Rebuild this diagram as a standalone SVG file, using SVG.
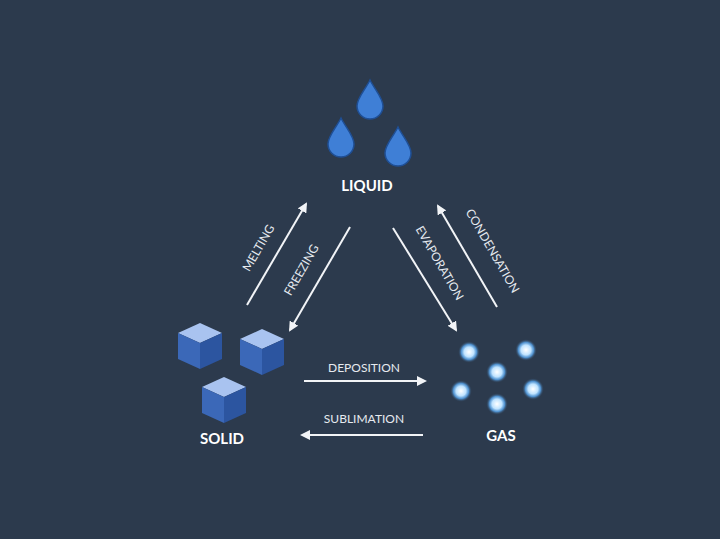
<svg xmlns="http://www.w3.org/2000/svg" width="720" height="539" viewBox="0 0 720 539">
<defs>
<style>
.lbl{font-family:"Lato","Liberation Sans",sans-serif;font-size:12px;fill:#e6eaf0;text-anchor:middle}
.ttl{font-family:"Lato","Liberation Sans",sans-serif;font-size:15px;font-weight:bold;fill:#ffffff;text-anchor:middle}
.arr{stroke:#f2f4f7;stroke-width:2;fill:none;marker-end:url(#ah)}
.top{fill:#a9c3f0}.lft{fill:#3b68b8}.rgt{fill:#2c55a0}
.drop{fill:#3f7fd6;stroke:#1f4f95;stroke-width:1.5}
</style>
<marker id="ah" viewBox="0 0 10 10" refX="8" refY="5" markerWidth="5" markerHeight="5" orient="auto"><path d="M0,0 L10,5 L0,10 Z" fill="#f2f4f7"/></marker>
<radialGradient id="glow"><stop offset="0" stop-color="#ffffff"/><stop offset="0.45" stop-color="#bfe3ff"/><stop offset="0.7" stop-color="#5aa8f0" stop-opacity="0.8"/><stop offset="1" stop-color="#2c3a4d" stop-opacity="0"/></radialGradient>
<path id="d" d="M0,-20 C5,-10 13,-2 13,6 A13,13 0 0 1 -13,6 C-13,-2 -5,-10 0,-20 Z"/>
<g id="cube"><path class="top" d="M0,-22 L22,-12 L0,-2 L-22,-12 Z"/><path class="lft" d="M-22,-12 L0,-2 L0,24 L-22,14 Z"/><path class="rgt" d="M0,-2 L22,-12 L22,14 L0,24 Z"/></g>
</defs>
<rect width="720" height="539" fill="#2c3a4d"/>
<g id="liquid">
<use href="#d" class="drop" x="370" y="100"/>
<use href="#d" class="drop" x="341" y="138"/>
<use href="#d" class="drop" x="398" y="147"/>
<text class="ttl" x="367" y="191">LIQUID</text>
</g>
<g id="solid">
<use href="#cube" x="200" y="345"/>
<use href="#cube" x="262" y="351"/>
<use href="#cube" x="224" y="399"/>
<text class="ttl" x="222" y="444">SOLID</text>
</g>
<g id="gas">
<circle cx="469" cy="352" r="11" fill="url(#glow)"/>
<circle cx="526" cy="350" r="11" fill="url(#glow)"/>
<circle cx="497" cy="372" r="11" fill="url(#glow)"/>
<circle cx="461" cy="391" r="11" fill="url(#glow)"/>
<circle cx="533" cy="389" r="11" fill="url(#glow)"/>
<circle cx="497" cy="404" r="11" fill="url(#glow)"/>
<text class="ttl" x="501" y="441">GAS</text>
</g>
<g id="connectors">
<line class="arr" x1="247" y1="305" x2="306" y2="204"/>
<line class="arr" x1="350" y1="227" x2="290" y2="330"/>
<line class="arr" x1="393" y1="228" x2="456" y2="330"/>
<line class="arr" x1="497" y1="307" x2="438" y2="206"/>
<line class="arr" x1="304" y1="381" x2="425" y2="381"/>
<line class="arr" x1="423" y1="435" x2="302" y2="435"/>
<text class="lbl" transform="translate(262,250) rotate(-60)">MELTING</text>
<text class="lbl" transform="translate(305,272) rotate(-60)">FREEZING</text>
<text class="lbl" transform="translate(436,265) rotate(60)">EVAPORATION</text>
<text class="lbl" transform="translate(489,253) rotate(60)">CONDENSATION</text>
<text class="lbl" x="364" y="372">DEPOSITION</text>
<text class="lbl" x="364" y="423">SUBLIMATION</text>
</g>
</svg>
